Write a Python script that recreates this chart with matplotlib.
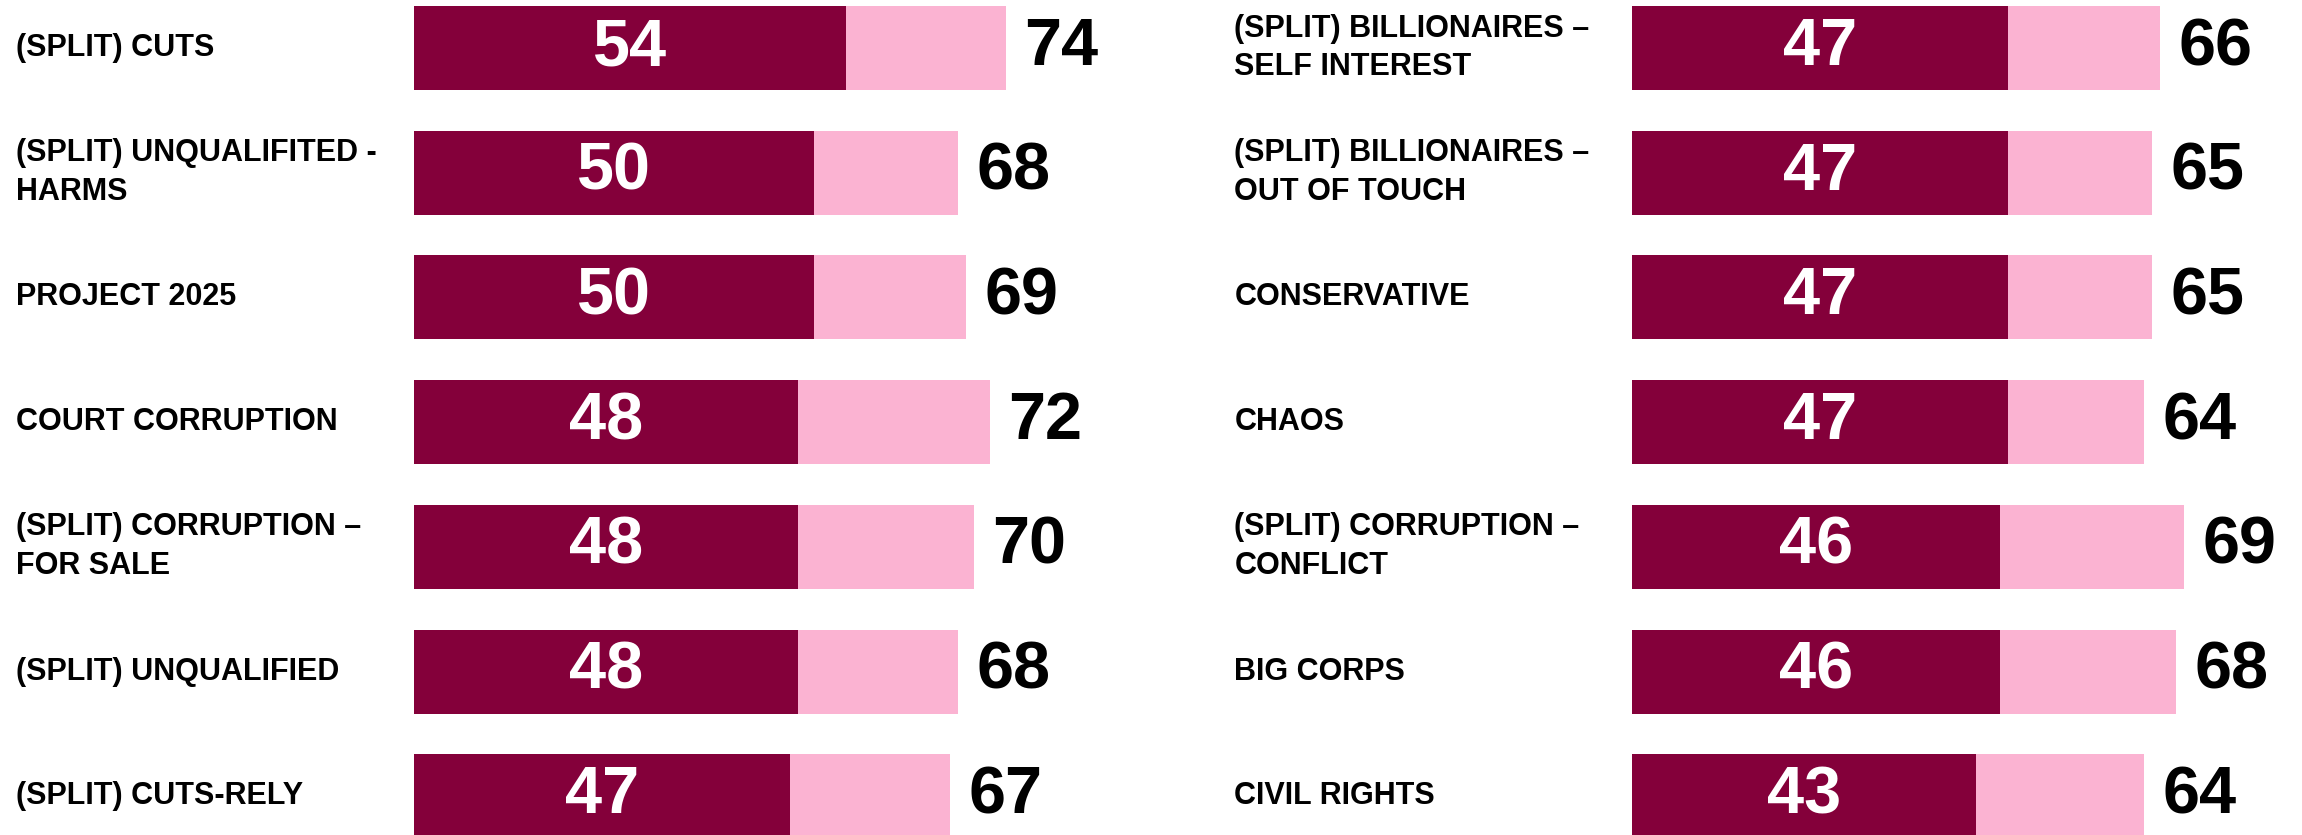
import matplotlib.pyplot as plt

# Left column
left_labels = ['(SPLIT) CUTS', '(SPLIT) UNQUALIFITED -\nHARMS', 'PROJECT 2025',
               'COURT CORRUPTION', '(SPLIT) CORRUPTION –\nFOR SALE',
               '(SPLIT) UNQUALIFIED', '(SPLIT) CUTS-RELY']
left_inner = [54, 50, 50, 48, 48, 48, 47]
left_total = [74, 68, 69, 72, 70, 68, 67]

# Right column
right_labels = ['(SPLIT) BILLIONAIRES –\nSELF INTEREST', '(SPLIT) BILLIONAIRES –\nOUT OF TOUCH',
                'CONSERVATIVE', 'CHAOS', '(SPLIT) CORRUPTION –\nCONFLICT',
                'BIG CORPS', 'CIVIL RIGHTS']
right_inner = [47, 47, 47, 47, 46, 46, 43]
right_total = [66, 65, 65, 64, 69, 68, 64]

DARK = '#84003A'
PINK = '#FBB3D2'
FONT = ['Liberation Sans', 'DejaVu Sans']

W, H = 2302, 835
PX_PER_UNIT = 8.0
PITCH = 124.7
TOP_CENTER = 48

fig = plt.figure(figsize=(W / 100, H / 100), dpi=100)
fig.patch.set_facecolor('white')


def panel(x0, labels, inner, total):
    width_px = W - x0
    ax = fig.add_axes([x0 / W, 0, width_px / W, 1])
    ax.set_xlim(0, width_px / PX_PER_UNIT)
    top = -TOP_CENTER / PITCH
    ax.set_ylim(top + H / PITCH, top)
    ax.axis('off')
    ys = list(range(len(labels)))
    ax.barh(ys, total, height=84 / PITCH, color=PINK, left=0)
    ax.barh(ys, inner, height=84 / PITCH, color=DARK, left=0)
    for y, lab, a, t in zip(ys, labels, inner, total):
        ax.text(-49.7, y, lab, ha='left', va='center', fontsize=22,
                fontweight='bold', family=FONT, linespacing=1.38, color='black')
        ax.text(a / 2, y, str(a), ha='center', va='center', fontsize=48,
                fontweight='bold', family=FONT, color='white')
        ax.annotate(str(t), xy=(t, y), xytext=(13, 0), textcoords='offset points',
                    ha='left', va='center', fontsize=48, fontweight='bold',
                    family=FONT, color='black')
    return ax


panel(414, left_labels, left_inner, left_total)
panel(1632, right_labels, right_inner, right_total)

fig.savefig('out.png', dpi=100, facecolor='white')
